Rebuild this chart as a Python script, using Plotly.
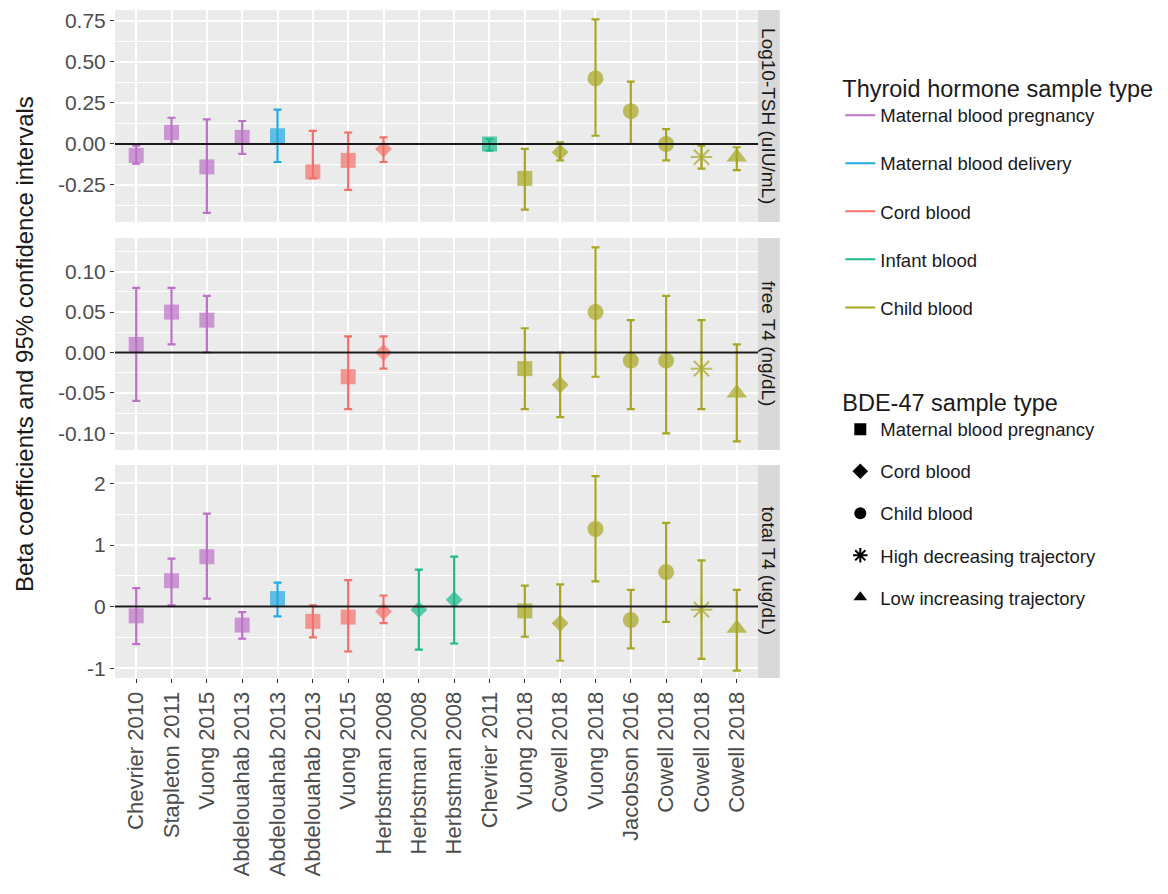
import plotly.graph_objects as go

# ---------------- data ----------------
studies = ["Chevrier 2010", "Stapleton 2011", "Vuong 2015", "Abdelouahab 2013",
           "Abdelouahab 2013", "Abdelouahab 2013", "Vuong 2015", "Herbstman 2008",
           "Herbstman 2008", "Herbstman 2008", "Chevrier 2011", "Vuong 2018",
           "Cowell 2018", "Vuong 2018", "Jacobson 2016", "Cowell 2018",
           "Cowell 2018", "Cowell 2018"]

hormone_type = ["Maternal blood pregnancy"] * 4 + ["Maternal blood delivery"] + \
               ["Cord blood"] * 3 + ["Infant blood"] * 3 + ["Child blood"] * 7

bde_type = ["Maternal blood pregnancy"] * 7 + ["Cord blood"] * 3 + \
           ["Maternal blood pregnancy", "Maternal blood pregnancy", "Cord blood",
            "Child blood", "Child blood", "Child blood",
            "High decreasing trajectory", "Low increasing trajectory"]

# Log10-TSH (uIU/mL)
tsh_beta = [-0.07, 0.07, -0.14, 0.04, 0.05, -0.17, -0.10, -0.03, None, None, 0.00,
            -0.21, -0.05, 0.40, 0.20, 0.00, -0.08, -0.08]
tsh_lo = [-0.12, 0.00, -0.42, -0.06, -0.11, -0.21, -0.28, -0.11, None, None, -0.04,
          -0.40, -0.10, 0.05, 0.00, -0.10, -0.15, -0.16]
tsh_hi = [-0.01, 0.16, 0.15, 0.14, 0.21, 0.08, 0.07, 0.04, None, None, 0.03,
          -0.03, 0.01, 0.76, 0.38, 0.09, -0.01, -0.02]

# free T4 (ng/dL)
ft4_beta = [0.01, 0.05, 0.04, None, None, None, -0.03, 0.00, None, None, None,
            -0.02, -0.04, 0.05, -0.01, -0.01, -0.02, -0.05]
ft4_lo = [-0.06, 0.01, 0.00, None, None, None, -0.07, -0.02, None, None, None,
          -0.07, -0.08, -0.03, -0.07, -0.10, -0.07, -0.11]
ft4_hi = [0.08, 0.08, 0.07, None, None, None, 0.02, 0.02, None, None, None,
          0.03, 0.00, 0.13, 0.04, 0.07, 0.04, 0.01]

# total T4 (ug/dL)
tt4_beta = [-0.15, 0.42, 0.81, -0.30, 0.13, -0.24, -0.17, -0.08, -0.05, 0.11, None,
            -0.07, -0.27, 1.26, -0.22, 0.56, -0.05, -0.35]
tt4_lo = [-0.61, 0.02, 0.13, -0.52, -0.16, -0.50, -0.73, -0.27, -0.70, -0.60, None,
          -0.49, -0.88, 0.41, -0.68, -0.25, -0.85, -1.04]
tt4_hi = [0.30, 0.78, 1.51, -0.09, 0.39, 0.02, 0.43, 0.18, 0.60, 0.81, None,
          0.34, 0.36, 2.12, 0.27, 1.36, 0.75, 0.27]

panel_labels = ["Log10-TSH (uIU/mL)", "free T4 (ng/dL)", "total T4 (ug/dL)"]
tsh_ticks = [-0.25, 0.0, 0.25, 0.5, 0.75]
tsh_ticktext = ["-0.25", "0.00", "0.25", "0.50", "0.75"]
ft4_ticks = [-0.10, -0.05, 0.0, 0.05, 0.10]
ft4_ticktext = ["-0.10", "-0.05", "0.00", "0.05", "0.10"]
tt4_ticks = [-1, 0, 1, 2]
tt4_ticktext = ["-1", "0", "1", "2"]

hormone_levels = ["Maternal blood pregnancy", "Maternal blood delivery", "Cord blood",
                  "Infant blood", "Child blood"]
bde_levels = ["Maternal blood pregnancy", "Cord blood", "Child blood",
              "High decreasing trajectory", "Low increasing trajectory"]

# ---------------- styling ----------------
colors = {"Maternal blood pregnancy": "#BC72C6",
          "Maternal blood delivery": "#22A9E1",
          "Cord blood": "#F2706A",
          "Infant blood": "#1DBA8A",
          "Child blood": "#A7A622"}
symbols = {"Maternal blood pregnancy": "square",
           "Cord blood": "diamond",
           "Child blood": "circle",
           "High decreasing trajectory": "asterisk-open",
           "Low increasing trajectory": "triangle-up"}
sizes = {"Maternal blood pregnancy": 15,
         "Cord blood": 13,
         "Child blood": 16,
         "High decreasing trajectory": 18,
         "Low increasing trajectory": 18}

panels = [(tsh_beta, tsh_lo, tsh_hi), (ft4_beta, ft4_lo, ft4_hi), (tt4_beta, tt4_lo, tt4_hi)]
x_pos = list(range(1, len(studies) + 1))

fig = go.Figure()

for p, (beta, lo, hi) in enumerate(panels):
    xa = "x" if p == 0 else f"x{p + 1}"
    ya = "y" if p == 0 else f"y{p + 1}"
    for h in hormone_levels:
        idx = [i for i in range(len(studies)) if hormone_type[i] == h and beta[i] is not None]
        if not idx:
            continue
        fig.add_trace(go.Scatter(
            x=[x_pos[i] for i in idx],
            y=[beta[i] for i in idx],
            mode="markers",
            marker=dict(color=colors[h],
                        symbol=[symbols[bde_type[i]] for i in idx],
                        size=[sizes[bde_type[i]] for i in idx],
                        line=dict(color=colors[h],
                                  width=[2 if bde_type[i] == "High decreasing trajectory" else 0 for i in idx])),
            error_y=dict(type="data", symmetric=False,
                         array=[hi[i] - beta[i] for i in idx],
                         arrayminus=[beta[i] - lo[i] for i in idx],
                         color=colors[h], thickness=2.2, width=4),
            xaxis=xa, yaxis=ya, showlegend=False, hoverinfo="skip"))

# legend entries
for h in hormone_levels:
    fig.add_trace(go.Scatter(x=[None], y=[None], mode="lines", name=h,
                             line=dict(color=colors[h], width=2),
                             legend="legend", legendgroup="h_" + h))
for b in bde_levels:
    fig.add_trace(go.Scatter(x=[None], y=[None], mode="markers", name=b,
                             marker=dict(color="black", symbol=symbols[b], size=14,
                                         line=dict(color="black",
                                                   width=1.5 if b == "High decreasing trajectory" else 0)),
                             legend="legend2", legendgroup="b_" + b))

domains = [[0.6826, 1.0], [0.3413, 0.6587], [0.0, 0.3189]]
ranges = [[-0.476, 0.817], [-0.1207, 0.1417], [-1.16, 2.30]]
ticks = [(tsh_ticks, tsh_ticktext), (ft4_ticks, ft4_ticktext), (tt4_ticks, tt4_ticktext)]
minor_dtick = [0.125, 0.025, 0.5]

FONT = "Liberation Sans, Arial, sans-serif"
ytickfont = dict(family=FONT, size=21, color="#4D4D4D")
xtickfont = dict(family=FONT, size=22, color="#4D4D4D")
layout = dict(
    width=1152, height=878,
    margin=dict(l=107, r=402, t=2, b=208),
    paper_bgcolor="white", plot_bgcolor="#EBEBEB",
    font=dict(family=FONT, color="#1A1A1A"),
)
for p in range(3):
    xk = "xaxis" if p == 0 else f"xaxis{p + 1}"
    yk = "yaxis" if p == 0 else f"yaxis{p + 1}"
    ya = "y" if p == 0 else f"y{p + 1}"
    xdict = dict(
        domain=[0, 1], anchor=ya, range=[0.4, len(studies) + 0.6],
        tickmode="array", tickvals=x_pos,
        ticktext=studies if p == 2 else [""] * len(studies),
        showticklabels=(p == 2), tickangle=-90, tickfont=xtickfont,
        ticks="outside" if p == 2 else "", ticklen=4, tickcolor="#333333",
        showgrid=True, gridcolor="white", gridwidth=1.5,
        zeroline=False, showline=False,
    )
    if p > 0:
        xdict["matches"] = "x"
    layout[xk] = xdict
    layout[yk] = dict(
        domain=domains[p], anchor="x" if p == 0 else f"x{p + 1}", range=ranges[p],
        tickmode="array", tickvals=ticks[p][0], ticktext=ticks[p][1], tickfont=ytickfont,
        ticks="outside", ticklen=4, tickcolor="#333333",
        showgrid=True, gridcolor="white", gridwidth=1.5,
        minor=dict(dtick=minor_dtick[p], tick0=0, showgrid=True, gridcolor="white",
                   gridwidth=0.7, ticks=""),
        zeroline=False, showline=False,
    )

shapes = []
annotations = []
for p in range(3):
    xr = "x" if p == 0 else f"x{p + 1}"
    yr = "y" if p == 0 else f"y{p + 1}"
    # horizontal reference line at zero, drawn above points
    shapes.append(dict(type="line", xref=f"{xr} domain", yref=yr, x0=0, x1=1, y0=0, y1=0,
                       line=dict(color="#1A1A1A", width=2), layer="above"))
    shapes.append(dict(type="rect", xref="paper", yref="paper",
                       x0=1.0, x1=1.034, y0=domains[p][0], y1=domains[p][1],
                       fillcolor="#D9D9D9", line=dict(width=0), layer="below"))
    annotations.append(dict(text=panel_labels[p], xref="paper", yref="paper",
                            x=1.017, y=(domains[p][0] + domains[p][1]) / 2,
                            textangle=90, showarrow=False,
                            font=dict(size=19, color="#1A1A1A"),
                            xanchor="center", yanchor="middle"))
annotations.append(dict(text="Beta coefficients and 95% confidence intervals",
                        xref="paper", yref="paper", x=-0.1415, y=0.5,
                        textangle=-90, showarrow=False, xanchor="center", yanchor="middle",
                        font=dict(size=24, color="#1A1A1A")))
layout["shapes"] = shapes
layout["annotations"] = annotations

legend_font = dict(size=18.5, color="#1A1A1A")
layout["legend"] = dict(
    title=dict(text="Thyroid hormone sample type", font=dict(size=23.5, color="#1A1A1A")),
    x=1.128, y=0.916, xanchor="left", yanchor="top",
    font=legend_font, tracegroupgap=21, bgcolor="rgba(0,0,0,0)")
layout["legend2"] = dict(
    title=dict(text="BDE-47 sample type", font=dict(size=23.5, color="#1A1A1A")),
    x=1.128, y=0.446, xanchor="left", yanchor="top",
    font=legend_font, tracegroupgap=15, bgcolor="rgba(0,0,0,0)",
    itemsizing="constant")

fig.update_layout(**layout)
fig.write_html("out.html")
